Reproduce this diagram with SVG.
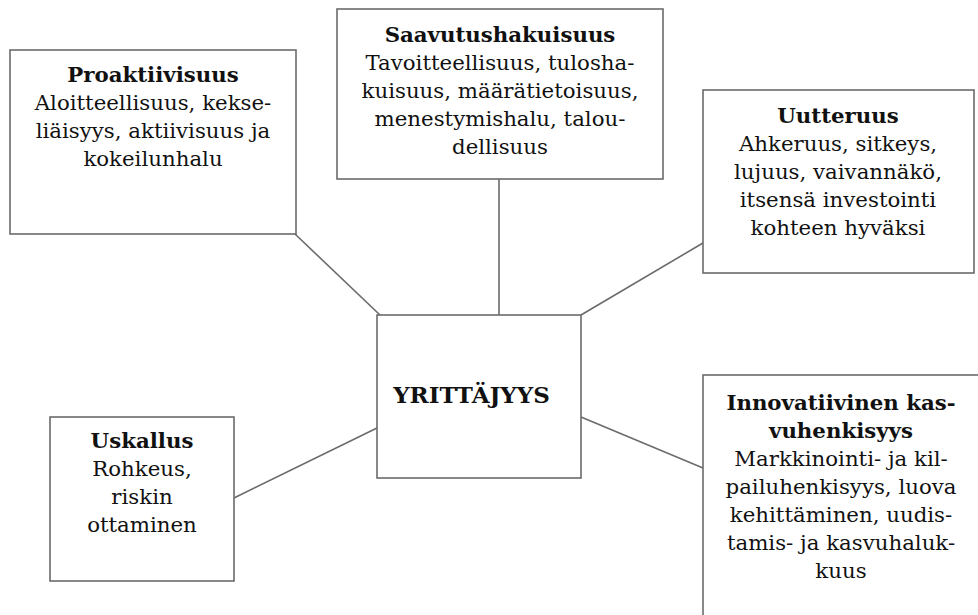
<svg xmlns="http://www.w3.org/2000/svg" width="978" height="615" viewBox="0 0 978 615">
  <style>
    .box { fill: #ffffff; stroke: #6b6b6b; stroke-width: 1.6; }
    .link { stroke: #6b6b6b; stroke-width: 1.6; fill: none; }
    text { font-family: "DejaVu Serif", "Liberation Serif", serif; font-size: 21.3px; fill: #111111; text-anchor: middle; }
    .title { font-weight: bold; }
    .core { font-weight: bold; font-size: 23px; }
  </style>
  <rect width="978" height="615" fill="#ffffff"/>

  <!-- connectors from the centre box to each trait -->
  <g id="connectors">
    <line class="link" x1="295" y1="234" x2="380" y2="315"/>
    <line class="link" x1="499" y1="179" x2="499" y2="315"/>
    <line class="link" x1="703" y1="243" x2="581" y2="315"/>
    <line class="link" x1="703" y1="468" x2="581" y2="417"/>
    <line class="link" x1="234" y1="498" x2="377" y2="428"/>
  </g>

  <g id="proaktiivisuus">
    <rect class="box" x="10" y="50" width="286" height="184"/>
    <text x="153" y="82" class="title">Proaktiivisuus</text>
    <text x="153" y="110">Aloitteellisuus, kekse-</text>
    <text x="153" y="138">liäisyys, aktiivisuus ja</text>
    <text x="153" y="166">kokeilunhalu</text>
  </g>

  <g id="saavutushakuisuus">
    <rect class="box" x="337" y="9" width="326" height="170"/>
    <text x="500" y="42" class="title">Saavutushakuisuus</text>
    <text x="500" y="70">Tavoitteellisuus, tulosha-</text>
    <text x="500" y="98">kuisuus, määrätietoisuus,</text>
    <text x="500" y="126">menestymishalu, talou-</text>
    <text x="500" y="154">dellisuus</text>
  </g>

  <g id="uutteruus">
    <rect class="box" x="703" y="90" width="271" height="183"/>
    <text x="838" y="123" class="title">Uutteruus</text>
    <text x="838" y="151">Ahkeruus, sitkeys,</text>
    <text x="838" y="179">lujuus, vaivannäkö,</text>
    <text x="838" y="207">itsensä investointi</text>
    <text x="838" y="235">kohteen hyväksi</text>
  </g>

  <g id="yrittajyys">
    <rect class="box" x="377" y="315" width="204" height="163"/>
    <text x="471.5" y="403" class="core">YRITTÄJYYS</text>
  </g>

  <g id="innovatiivinen">
    <rect class="box" x="703" y="375" width="278" height="260"/>
    <text x="841" y="410" class="title">Innovatiivinen kas-</text>
    <text x="841" y="438" class="title">vuhenkisyys</text>
    <text x="841" y="466">Markkinointi- ja kil-</text>
    <text x="841" y="494">pailuhenkisyys, luova</text>
    <text x="841" y="522">kehittäminen, uudis-</text>
    <text x="841" y="550">tamis- ja kasvuhaluk-</text>
    <text x="841" y="578">kuus</text>
  </g>

  <g id="uskallus">
    <rect class="box" x="50" y="417" width="184" height="164"/>
    <text x="142" y="448" class="title">Uskallus</text>
    <text x="142" y="476">Rohkeus,</text>
    <text x="142" y="504">riskin</text>
    <text x="142" y="532">ottaminen</text>
  </g>
</svg>
